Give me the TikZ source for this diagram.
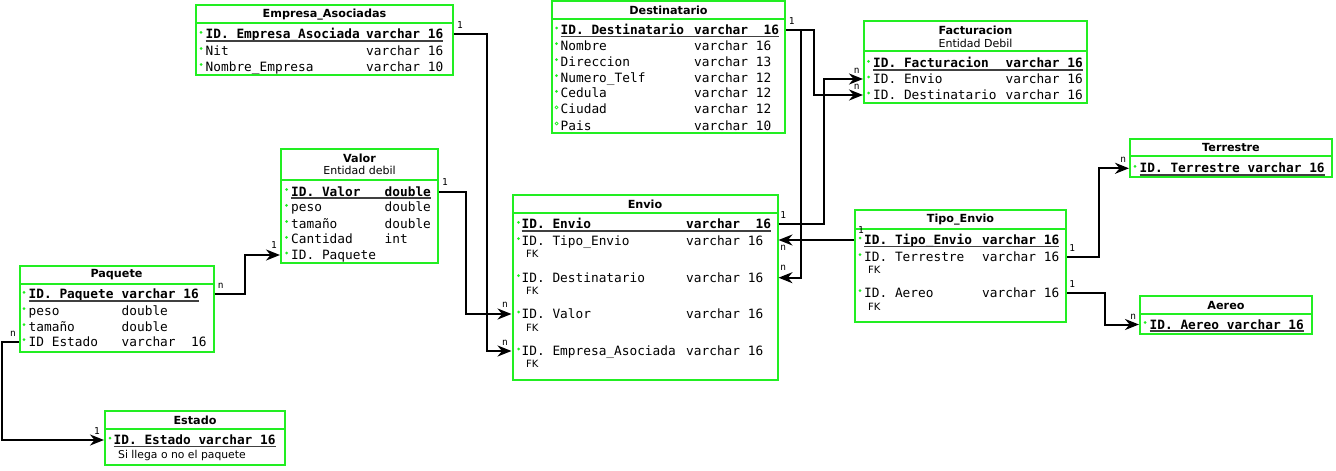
\documentclass[tikz,border=0pt]{standalone}
\usepackage{fontspec}
\usetikzlibrary{arrows.meta,fit}
\newfontfamily\fmono{DejaVu Sans Mono}
\newfontfamily\fsans{DejaVu Sans}
\definecolor{tgreen}{RGB}{34,238,34}
\tikzset{
  tblbox/.style={draw=tgreen, line width=2pt, inner sep=0pt},
  tblline/.style={draw=tgreen, line width=2pt},
  fld/.style={anchor=base west, inner sep=0pt, font=\fmono\fontsize{12.8}{14}\selectfont},
  pkf/.style={anchor=base west, inner sep=0pt, font=\fmono\fontsize{12.8}{14}\selectfont\bfseries},
  uline/.style={draw=black!75, line width=1.4pt},
  ttl/.style={inner sep=0pt, font=\fsans\fontsize{11.2}{13}\selectfont\bfseries},
  subt/.style={inner sep=0pt, font=\fsans\fontsize{11}{13}\selectfont},
  fk/.style={anchor=west, inner sep=0pt, font=\fsans\fontsize{10}{11}\selectfont},
  note/.style={anchor=west, inner sep=0pt, font=\fsans\fontsize{10.8}{12}\selectfont},
  card/.style={inner sep=0pt, font=\fmono\fontsize{9.5}{10}\selectfont},
  conn/.style={draw=black, line width=2pt, -{Stealth[length=14pt,width=11pt]}},
  bul/.style={fill=tgreen},
  hbul/.style={draw=tgreen, line width=0.7pt}
}
% #1 bullet style, #2 name, #3 y, #4 bullet x, #5 name x, #6 text, #7 type x, #8 type
\newcommand\frow[8][bul]{%
  \coordinate (#2) at (#4,#3);
  \path[#1] (#4,#3-2) circle (1.5);
  \node[fld] (#2-n) at (#5,#3+4.6) {#6};
  \node[fld] (#2-t) at (#7,#3+4.6) {#8};
}
% #1 name, #2 y, #3 bullet x, #4 name x, #5 text, #6 type x, #7 type
\newcommand\pkrow[7]{%
  \coordinate (#1) at (#3,#2);
  \path[bul] (#3,#2-2) circle (1.5);
  \node[pkf] (#1-n) at (#4,#2+4.6) {#5};
  \node[pkf] (#1-t) at (#6,#2+4.6) {#7};
  \draw[uline] ([yshift=-2pt]#1-n.base west) -- ([yshift=-2pt]#1-t.base east);
}
\begin{document}
\begin{tikzpicture}[x=1pt,y=-1pt]
\useasboundingbox (0,0) rectangle (1336,471);
\fill[white] (0,0) rectangle (1336,471);

% ---------- Empresa_Asociadas
\node[tblbox, fit={(196,5) (453,75)}] (emp) {};
\draw[tblline] (196,23.3) -- (453,23.3);
\node[ttl] (emp-ttl) at (324.5,14.5) {Empresa\_Asociadas};
\pkrow{empid}{34.3}{201}{205.5}{ID. Empresa\_Asociada}{366}{varchar 16}
\frow{empnit}{50.5}{201}{205.5}{Nit}{366}{varchar 16}
\frow{empnom}{66.5}{201}{205.5}{Nombre\_Empresa}{366}{varchar 10}

% ---------- Destinatario
\node[tblbox, fit={(552,1) (785,133)}] (dest) {};
\draw[tblline] (552,19) -- (785,19);
\node[ttl] (dest-ttl) at (668.5,10) {Destinatario};
\pkrow{destid}{30}{556.5}{560.5}{ID. Destinatario}{694}{varchar~~16}
\frow{destnom}{45.7}{556.5}{560.5}{Nombre}{694}{varchar 16}
\frow{destdir}{61.7}{556.5}{560.5}{Direccion}{694}{varchar 13}
\frow{desttel}{77.7}{556.5}{560.5}{Numero\_Telf}{694}{varchar 12}
\frow{destced}{93.3}{556.5}{560.5}{Cedula}{694}{varchar 12}
\frow[hbul]{destciu}{109.3}{556.5}{560.5}{Ciudad}{694}{varchar 12}
\frow[hbul]{destpais}{125.5}{556.5}{560.5}{Pais}{694}{varchar 10}

% ---------- Facturacion
\node[tblbox, fit={(864,21) (1087,103)}] (fact) {};
\draw[tblline] (864,51) -- (1087,51);
\node[ttl] (fact-ttl) at (975.5,30) {Facturacion};
\node[subt] (fact-sub) at (975.5,43.5) {Entidad Debil};
\pkrow{factid}{63.3}{868.5}{873}{ID. Facturacion}{1005.5}{varchar 16}
\frow{factenv}{79}{868.5}{873}{ID. Envio}{1005.5}{varchar 16}
\frow{factdest}{95}{868.5}{873}{ID. Destinatario}{1005.5}{varchar 16}

% ---------- Valor
\node[tblbox, fit={(281,149) (438,263)}] (valor) {};
\draw[tblline] (281,179.5) -- (438,179.5);
\node[ttl] (valor-ttl) at (359.5,158.5) {Valor};
\node[subt] (valor-sub) at (359.5,170.5) {Entidad debil};
\pkrow{valid}{191.5}{286.5}{291}{ID. Valor}{384.5}{double}
\frow{valpeso}{207.3}{286.5}{291}{peso}{384.5}{double}
\frow{valtam}{223.5}{286.5}{291}{tamaño}{384.5}{double}
\frow{valcant}{239.3}{286.5}{291}{Cantidad}{384.5}{int}
\frow{valpaq}{255}{286.5}{291}{ID. Paquete}{384.5}{}

% ---------- Envio
\node[tblbox, fit={(512.5,195) (777.5,379.5)}] (envio) {};
\draw[tblline] (512.5,212.7) -- (777.5,212.7);
\node[ttl] (envio-ttl) at (645,204) {Envio};
\pkrow{envid}{224.3}{518.5}{521.5}{ID. Envio}{686}{varchar~~16}
\frow{envtipo}{240.7}{518.5}{521.5}{ID. Tipo\_Envio}{686}{varchar 16}
\node[fk] (envtipo-fk) at (526,254.3) {FK};
\frow{envdest}{277.7}{518.5}{521.5}{ID. Destinatario}{686}{varchar 16}
\node[fk] (envdest-fk) at (526,291) {FK};
\frow{envval}{314}{518.5}{521.5}{ID. Valor}{686}{varchar 16}
\node[fk] (envval-fk) at (526,327.7) {FK};
\frow{envemp}{351}{518.5}{521.5}{ID. Empresa\_Asociada}{686}{varchar 16}
\node[fk] (envemp-fk) at (526,364.3) {FK};

% ---------- Tipo_Envio
\node[tblbox, fit={(855,210) (1066,322)}] (tipo) {};
\draw[tblline] (855,229) -- (1066,229);
\node[ttl] (tipo-ttl) at (960.5,219.5) {Tipo\_Envio};
\pkrow{tipid}{240}{860}{864}{ID. Tipo\_Envio}{982}{varchar 16}
\frow{tipter}{256.7}{860}{864}{ID. Terrestre}{982}{varchar 16}
\node[fk] (tipter-fk) at (868,270) {FK};
\frow{tipaer}{292.7}{860}{864}{ID. Aereo}{982}{varchar 16}
\node[fk] (tipaer-fk) at (868,306.7) {FK};

% ---------- Terrestre
\node[tblbox, fit={(1130,139) (1332,176.5)}] (ter) {};
\draw[tblline] (1130,156) -- (1332,156);
\node[ttl] (ter-ttl) at (1231,147.5) {Terrestre};
\pkrow{terid}{168.3}{1135}{1139.5}{ID. Terrestre}{1247.4}{varchar 16}

% ---------- Aereo
\node[tblbox, fit={(1140,296) (1312,334)}] (aer) {};
\draw[tblline] (1140,314) -- (1312,314);
\node[ttl] (aer-ttl) at (1226,305.5) {Aereo};
\pkrow{aerid}{324.5}{1145}{1149.5}{ID. Aereo}{1226.6}{varchar 16}

% ---------- Paquete
\node[tblbox, fit={(19.5,266) (213.5,351.5)}] (paq) {};
\draw[tblline] (19.5,283.5) -- (213.5,283.5);
\node[ttl] (paq-ttl) at (116.5,274.5) {Paquete};
\pkrow{paqid}{294.3}{24}{28.5}{ID. Paquete}{121.5}{varchar 16}
\frow{paqpeso}{310.7}{24}{28.5}{peso}{121.5}{double}
\frow{paqtam}{326.7}{24}{28.5}{tamaño}{121.5}{double}
\frow{paqest}{341.7}{24}{28.5}{ID Estado}{121.5}{varchar~~16}

% ---------- Estado
\node[tblbox, fit={(105,411) (285,465)}] (est) {};
\draw[tblline] (105,428.5) -- (285,428.5);
\node[ttl] (est-ttl) at (195,420) {Estado};
\pkrow{estid}{440}{110}{113.5}{ID. Estado}{198.3}{varchar 16}
\node[note] (est-note) at (118,456) {Si llega o no el paquete};

% ---------- Connectors
\draw[conn] (emp.east |- empid) -- ++(33,0) |- (envio.west |- envemp);
\draw[conn] (valor.east |- valid) -- ++(27,0) |- (envio.west |- envval);
\draw[conn] (paq.east |- paqid) -- ++(30,0) |- (valor.west |- valpaq);
\draw[conn] (paq.west |- paqest) -- ++(-17,0) |- (est.west |- estid);
\draw[conn] (dest.east |- destid) -- ++(28,0) |- (fact.west |- factdest);
\draw[conn] (dest.east |- destid) -- ++(15,0) |- (envio.east |- envdest);
\draw[conn] (envio.east |- envid) -- ++(45,0) |- (fact.west |- factenv);
\draw[conn] (tipo.west |- tipid) -- (envio.east |- tipid);
\draw[conn] (tipo.east |- tipter) -- ++(32,0) |- (ter.west |- terid);
\draw[conn] (tipo.east |- tipaer) -- ++(38,0) |- (aer.west |- aerid);

% ---------- Cardinalities
\node[card] (c1) at (460,25) {1};
\node[card] (c2) at (505,305) {n};
\node[card] (c3) at (505,342.5) {n};
\node[card] (c4) at (445,182.3) {1};
\node[card] (c5) at (274,245) {1};
\node[card] (c6) at (220.7,286) {n};
\node[card] (c7) at (13,334) {n};
\node[card] (c8) at (97,431) {1};
\node[card] (c9) at (791.7,20.7) {1};
\node[card] (c10) at (856.7,71) {n};
\node[card] (c11) at (856.7,87.3) {n};
\node[card] (c12) at (783.3,215) {1};
\node[card] (c13) at (783.3,248.3) {n};
\node[card] (c14) at (783.3,268.3) {n};
\node[card] (c15) at (861,230) {1};
\node[card] (c16) at (1072.3,247.7) {1};
\node[card] (c17) at (1072.3,284.3) {1};
\node[card] (c18) at (1123.3,160) {n};
\node[card] (c19) at (1133.3,317.3) {n};
\end{tikzpicture}
\end{document}
